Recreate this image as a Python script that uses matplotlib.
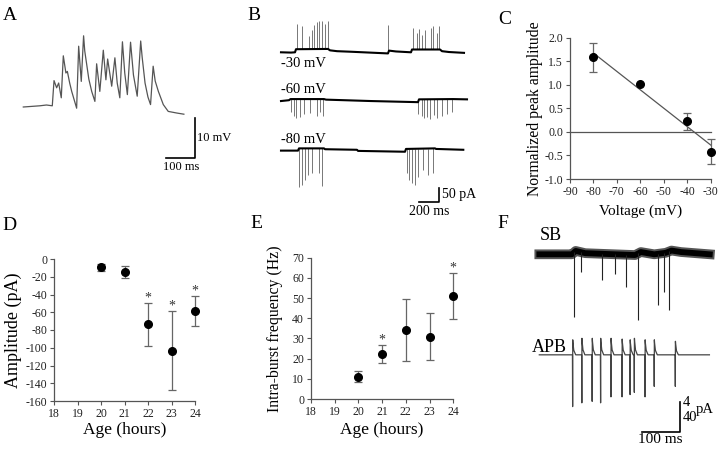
import numpy as np
import matplotlib
matplotlib.use("Agg")
import matplotlib.pyplot as plt

plt.rcParams['font.family'] = 'Liberation Serif'
plt.rcParams['axes.unicode_minus'] = False

# ---------------- data ----------------
# A: current-clamp burst (ms, mV relative to rest)
a_t = [0, 57, 80, 100, 106, 115, 122, 131, 138, 147, 152, 160, 167, 184, 191,
       200, 208, 212, 218, 226, 236, 247, 253, 264, 276, 285, 291, 305, 316,
       324, 333, 342, 350, 359, 370, 380, 393, 405, 410, 420, 430, 439, 448,
       455, 466, 483, 500, 529, 554]
a_mv = [0, 0.3, 0.5, 0.3, 6.6, 4.8, 6.0, 2.3, 12.8, 8.5, 8.9, 6.0, 3.9, -0.3,
        15.2, 6.4, 17.8, 14.0, 11.0, 7.0, 3.9, 1.4, 10.8, 3.9, 14.2, 6.8, 12.0,
        5.2, 12.3, 6.0, 2.3, 16.3, 8.5, 3.1, 16.2, 8.0, 2.7, 16.5, 12.5, 6.0,
        2.5, 0.6, 10.2, 6.5, 3.9, 0.6, -1.1, -1.5, -1.8]

# B: voltage-clamp traces at three holding potentials (ms, pA)
b_labels = ['-30 mV', '-60 mV', '-80 mV']
b30_base_t = [0, 100, 140, 150, 470, 490, 560, 700, 1070, 1080, 1150, 1300, 1310,
              1590, 1610, 1680, 1830]
b30_base_i = [0, -1, 0, 11, 12, 7, 4, 2, -4, 6, 3, 0, 10, 10, 4, 1, -2]
b30_spk_t = [157, 205, 280, 307, 333, 357, 380, 407, 440, 473, 1073,
             1323, 1357, 1380, 1410, 1440, 1500, 1523, 1557, 1583]
b30_spk_i = [100, 93, 58, 78, 97, 108, 110, 110, 100, 110, 96,
             85, 70, 82, 60, 78, 88, 95, 68, 95]

b60_base_t = [0, 80, 95, 430, 450, 900, 1370, 1380, 1720, 1860]
b60_base_i = [0, 3, 7, 7, 5, 0, -4, 6, 7, 6]
b60_spk_t = [100, 125, 150, 185, 225, 285, 355, 390, 415,
             1373, 1407, 1430, 1457, 1490, 1530, 1557, 1607, 1657, 1707]
b60_spk_i = [-40, -55, -62, -58, -48, -42, -55, -40, -55,
             -45, -55, -62, -58, -65, -50, -60, -55, -45, -40]

b80_base_t = [0, 170, 180, 430, 440, 760, 770, 1240, 1250, 1540, 1550, 1823]
b80_base_i = [0, 0, 8, 8, 5, 3, -1, -4, 6, 8, 6, 3]
b80_spk_t = [183, 210, 237, 267, 313, 383, 413,
             1257, 1283, 1310, 1340, 1373, 1417, 1473, 1523]
b80_spk_i = [-131, -122, -105, -87, -81, -81, -126,
             -81, -105, -117, -123, -93, -69, -87, -81]

# C: normalized peak amplitude vs holding voltage
c_volt = [-80, -60, -40, -30]
c_amp = [1.58, 1.01, 0.23, -0.42]
c_err = [0.30, 0.0, 0.18, 0.26]

# D, E: development
ages = [20, 21, 22, 23, 24]
d_amp = [-9.4, -14.3, -73.6, -103.3, -58.6]
d_err = [4.1, 6.6, 24.0, 44.7, 16.5]
d_sig = [22, 23, 24]
e_freq = [11.1, 22.3, 34.2, 30.9, 51.0]
e_err = [2.9, 4.4, 15.3, 11.6, 11.6]
e_sig = [21, 24]

# F: SB (4 pA bar) and APB (40 pA bar) traces (ms, pA)
sb_base_t = [0, 85, 95, 120, 250, 265, 300, 330, 345, 370, 445]
sb_base_i = [0, 0, 0.45, 0.15, -0.1, 0.3, 0, 0.2, 0.5, 0.3, 0]
sb_spk_t = [91, 108, 163, 198, 226, 258, 311, 325, 339]
sb_spk_i = [-8.4, -2.4, -3.4, -2.6, -4.3, -8.7, -6.8, -5.0, -7.4]
apb_t = [87, 111, 138, 160, 187, 216, 237, 248, 276, 300, 355]
apb_dn = [-69, -64, -62, -64, -56, -56, -53, -50, -56, -42, -42]
apb_up = [20, 22, 22, 22, 22, 21, 20, 22, 20, 20, 18]
apb_end = 444

# ---------------- layout helpers ----------------
W, H = 720, 449
fig = plt.figure(figsize=(W / 100, H / 100), dpi=100)
GREY = '#555555'


def px_axes(x0, y0, x1, y1):
    return fig.add_axes([x0 / W, 1 - y1 / H, (x1 - x0) / W, (y1 - y0) / H])


def trace_axes(box, origin, per_px):
    ax = px_axes(*box)
    ox, oy = origin
    sx, sy = per_px
    ax.set_xlim((box[0] - ox) * sx, (box[2] - ox) * sx)
    ax.set_ylim((oy - box[3]) * sy, (oy - box[1]) * sy)
    ax.axis('off')
    return ax


def style_axes(ax):
    for s in ('top', 'right'):
        ax.spines[s].set_visible(False)
    for s in ('left', 'bottom'):
        ax.spines[s].set_color(GREY)
        ax.spines[s].set_linewidth(0.9)
    ax.tick_params(direction='out', length=3, width=0.8, color=GREY,
                   labelsize=8.5, labelcolor='#222222', pad=2)


def dots(ax, x, y, err):
    ax.errorbar(x, y, yerr=err, fmt='o', color='k', ms=5.5, ecolor='#666666',
                elinewidth=0.9, capsize=3, capthick=0.9)
    for art in ax.get_children():
        art.set_clip_on(False)


def stars(ax, xs, x, y, err):
    for xi in xs:
        i = x.index(xi)
        ax.annotate('*', (xi, y[i] + err[i]), xytext=(0, 1), textcoords='offset points',
                    ha='center', va='baseline', fontsize=10, color='#333333')


def panel(x, y, s):
    fig.text(x / W, 1 - y / H, s, fontsize=14, va='baseline', ha='left')


# ---------------- A ----------------
axa = trace_axes((0, 25, 240, 180), (23.3, 107), (3.45, 0.25))
axa.plot(a_t, a_mv, color=GREY, lw=0.9)
axa.plot([492, 592, 592], [-12.75, -12.75, -2.75], color='k', lw=1.2)
axa.text(599, -7.75, '10 mV', fontsize=9, va='center', ha='left')
axa.text(543, -13.6, '100 ms', fontsize=9, va='top', ha='center')

# ---------------- B ----------------
axb = trace_axes((268, 10, 490, 220), (281, 52.3), (10, 3.57))
rows = [(b30_base_t, b30_base_i, b30_spk_t, b30_spk_i),
        (b60_base_t, b60_base_i, b60_spk_t, b60_spk_i),
        (b80_base_t, b80_base_i, b80_spk_t, b80_spk_i)]
offsets = [0, -174, -351]
for (bt, bi, st, si), off, lab in zip(rows, offsets, b_labels):
    bt = np.array(bt)
    bi = np.array(bi, dtype=float)
    base_at = np.interp(st, bt, bi)
    axb.vlines(st, base_at + off, np.array(si) + off, color='#777777', lw=0.7)
    axb.plot(bt, bi + off, color='k', lw=1.5)
    if off == 0:
        axb.text(0, off - 15, lab, fontsize=10.5, va='top', ha='left')
    else:
        axb.text(0, off + 18, lab, fontsize=10.5, va='bottom', ha='left')
axb.plot([1380, 1580, 1580], [-534, -534, -484], color='k', lw=1.2)
axb.text(1610, -509, '50 pA', fontsize=10, va='center', ha='left')
axb.text(1485, -545, '200 ms', fontsize=10, va='top', ha='center')

# ---------------- C ----------------
axc = px_axes(570, 37.7, 710.7, 179)
style_axes(axc)
axc.axhline(0, color=GREY, lw=0.9)
fit = np.polyfit(c_volt, c_amp, 1)
fx = np.array([min(c_volt), max(c_volt)])
axc.plot(fx, np.polyval(fit, fx), color=GREY, lw=0.9)
dots(axc, c_volt, c_amp, c_err)
axc.set_xlim(-90, -30)
axc.set_ylim(-1, 2)
axc.set_xticks(np.arange(-90, -29, 10))
axc.set_yticks(np.arange(-1, 2.01, 0.5))
axc.set_yticklabels(['%.1f' % v for v in np.arange(-1, 2.01, 0.5)])
axc.set_ylabel('Normalized peak amplitude', fontsize=11.3)
axc.set_xlabel('Voltage (mV)', fontsize=11)
axc.yaxis.set_label_coords(-0.19, 0.5)
axc.xaxis.set_label_coords(0.5, -0.18)

# ---------------- D ----------------
axd = px_axes(54, 259, 195, 401)
style_axes(axd)
dots(axd, ages, d_amp, d_err)
stars(axd, d_sig, ages, d_amp, d_err)
axd.set_xlim(18, 24)
axd.set_ylim(-160, 0)
axd.set_xticks(range(18, 25))
axd.set_yticks(range(-160, 1, 20))
axd.set_ylabel('Amplitude (pA)', fontsize=13)
axd.set_xlabel('Age (hours)', fontsize=12.5)
axd.yaxis.set_label_coords(-0.23, 0.5)
axd.xaxis.set_label_coords(0.5, -0.15)

# ---------------- E ----------------
axe = px_axes(311, 257.7, 453.3, 399)
style_axes(axe)
dots(axe, ages, e_freq, e_err)
stars(axe, e_sig, ages, e_freq, e_err)
axe.set_xlim(18, 24)
axe.set_ylim(0, 70)
axe.set_xticks(range(18, 25))
axe.set_yticks(range(0, 71, 10))
axe.set_ylabel('Intra-burst frequency (Hz)', fontsize=11.3)
axe.set_xlabel('Age (hours)', fontsize=12.5)
axe.yaxis.set_label_coords(-0.2, 0.5)
axe.xaxis.set_label_coords(0.5, -0.16)

# ---------------- F ----------------
axf = trace_axes((515, 230, 720, 449), (539.3, 254.3), (2.61, 1.333))
sb_gain = 10
sb_bt = np.array(sb_base_t)
sb_bi = np.array(sb_base_i) * sb_gain
axf.plot(sb_bt, sb_bi, color='#555555', lw=7)
axf.plot(sb_bt, sb_bi, color='k', lw=4.2)
sb_at = np.interp(sb_spk_t, sb_bt, sb_bi)
axf.vlines(sb_spk_t, sb_at, np.array(sb_spk_i) * sb_gain, color='#222222', lw=0.8)

apb_off = -134
tt, vv = [0], [0]
for t, dn, up in zip(apb_t, apb_dn, apb_up):
    tt += [t - 0.5, t, t + 0.3, t + 0.8, t + 3, t + 8]
    vv += [0, dn, up, up * 0.8, up * 0.3, 0]
tt.append(apb_end)
vv.append(0)
axf.plot(tt, np.array(vv) + apb_off, color='#444444', lw=0.9)

axf.text(0, 19, 'SB', fontsize=13, va='baseline', ha='left')
axf.text(-20, apb_off + 4, 'APB', fontsize=13, va='baseline', ha='left')
axf.plot([267, 367, 367], [-236.5, -236.5, -196.5], color='k', lw=1.2)
axf.text(374, -198, '4', fontsize=10.5, va='center', ha='left')
axf.text(374, -217, '40', fontsize=10.5, va='center', ha='left')
axf.text(407, -207.5, 'pA', fontsize=10.5, va='center', ha='left')
axf.text(315, -238, '100 ms', fontsize=11, va='top', ha='center')

# ---------------- panel letters ----------------
panel(3, 20, 'A')
panel(247, 20, 'B')
panel(498, 24, 'C')
panel(2, 230, 'D')
panel(250, 228, 'E')
panel(497, 228, 'F')

fig.savefig('out.png', dpi=100)
